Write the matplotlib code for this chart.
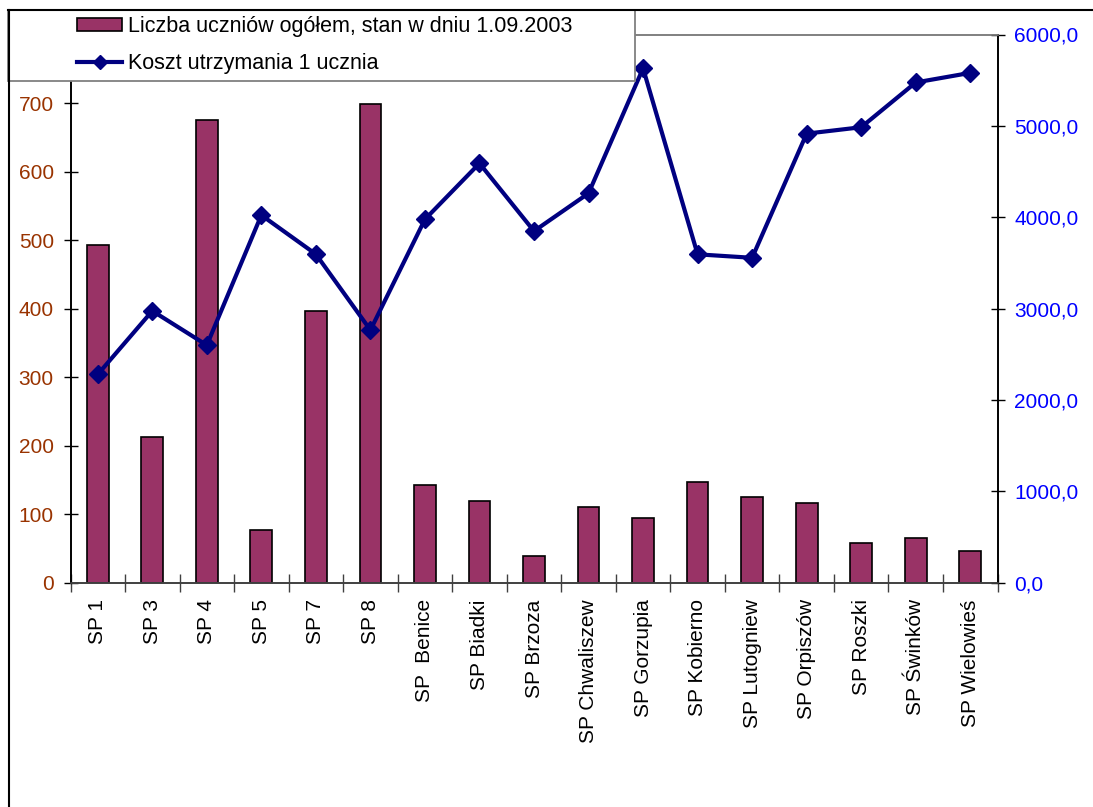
import matplotlib
matplotlib.use('Agg')
import matplotlib.pyplot as plt
from matplotlib.patches import Rectangle, Patch
from matplotlib.lines import Line2D
from matplotlib.ticker import FuncFormatter
import numpy as np

plt.rcParams['font.family'] = ['Liberation Sans', 'DejaVu Sans']

categories = ['SP 1', 'SP 3', 'SP 4', 'SP 5', 'SP 7', 'SP 8', 'SP  Benice', 'SP Biadki',
              'SP Brzoza', 'SP Chwaliszew', 'SP Gorzupia', 'SP Kobierno', 'SP Lutogniew',
              'SP Orpiszów', 'SP Roszki', 'SP Świnków', 'SP Wielowieś']
students = [493, 213, 675, 77, 396, 699, 143, 119, 39, 111, 94, 147, 125, 116, 58, 65, 46]
cost = [2280, 2975, 2600, 4023, 3595, 2765, 3977, 4590, 3848, 4262, 5630, 3594, 3556,
        4915, 4985, 5475, 5580]
left_ticks = [0, 100, 200, 300, 400, 500, 600, 700]
right_ticks = [0, 1000, 2000, 3000, 4000, 5000, 6000]
label_bars = 'Liczba uczniów ogółem, stan w dniu 1.09.2003'
label_line = 'Koszt utrzymania 1 ucznia'

W, H = 1093, 807
fig = plt.figure(figsize=(W / 100, H / 100), dpi=100)

def fx(px):
    return px / W

def fy(py):
    return 1 - py / H

ax_l, ax_r, ax_t, ax_b = 70.5, 997.5, 34.5, 582.7
ax = fig.add_axes([fx(ax_l), fy(ax_b), (ax_r - ax_l) / W, (ax_b - ax_t) / H])
ax2 = ax.twinx()

x = np.arange(len(categories))
bar_color = '#993366'
line_color = '#000080'
left_color = '#993300'
right_color = '#0000FF'
fs = 15

ax.bar(x, students, width=0.40, color=bar_color, edgecolor='black', linewidth=1.2, zorder=2)
ax2.plot(x, cost, color=line_color, linewidth=3, marker='D', markersize=9,
         markeredgecolor=line_color, zorder=3)

ax.set_xlim(-0.5, len(categories) - 0.5)
ax.set_ylim(0, 800)
ax2.set_ylim(0, 6000)

ax.set_yticks(left_ticks)
ax.set_yticklabels([str(v) for v in left_ticks])
ax2.set_yticks(right_ticks)
ax2.yaxis.set_major_formatter(FuncFormatter(lambda v, p: f'{v:.1f}'.replace('.', ',')))

ax.set_xticks(x)
ax.set_xticklabels(categories, rotation=90, fontsize=fs, va='top', ha='center')
ax.set_xticks(np.arange(-0.5, len(categories), 1), minor=True)
ax.tick_params(axis='x', which='major', length=0, pad=12)
ax.tick_params(axis='x', which='minor', length=13, direction='inout', width=1, color='#404040')
ax.tick_params(axis='y', which='major', length=10, direction='inout', width=1,
               labelsize=fs, labelcolor=left_color, pad=7)
ax2.tick_params(axis='y', which='major', length=10, direction='inout', width=1,
                labelsize=fs, labelcolor=right_color, pad=7)

for a in (ax, ax2):
    a.spines['top'].set_color('#808080')
    a.spines['top'].set_linewidth(1.2)
    a.spines['left'].set_color('black')
    a.spines['right'].set_color('black')
    a.spines['bottom'].set_color('#404040')
    for s in ('left', 'right', 'bottom'):
        a.spines[s].set_linewidth(1.2)
    a.set_facecolor('none')

# legend box
lg_l, lg_r, lg_t, lg_b = 8, 634.5, 10, 80.5
rect = Rectangle((fx(lg_l), fy(lg_b)), (lg_r - lg_l) / W, (lg_b - lg_t) / H,
                 transform=fig.transFigure, facecolor='white', edgecolor='#808080',
                 linewidth=1.3, zorder=4)
fig.patches.append(rect)

handles = [Patch(facecolor=bar_color, edgecolor='black', linewidth=1.2),
           Line2D([], [], color=line_color, linewidth=3, marker='D', markersize=7)]
leg = fig.legend(handles, [label_bars, label_line], loc='center left',
                 bbox_to_anchor=(fx(77), fy(45)), frameon=False, fontsize=15.5,
                 handlelength=2.1, handletextpad=0.28, labelspacing=0.72,
                 borderpad=0, borderaxespad=0, handleheight=0.52)
leg.set_zorder(6)

# outer frame
fig.add_artist(Line2D([fx(8), fx(W + 5)], [fy(10), fy(10)], color='black',
                      linewidth=1.5, transform=fig.transFigure, zorder=7))
fig.add_artist(Line2D([fx(8.5), fx(8.5)], [fy(10), fy(H + 5)], color='black',
                      linewidth=1.5, transform=fig.transFigure, zorder=7))

fig.savefig('out.png', dpi=100)
